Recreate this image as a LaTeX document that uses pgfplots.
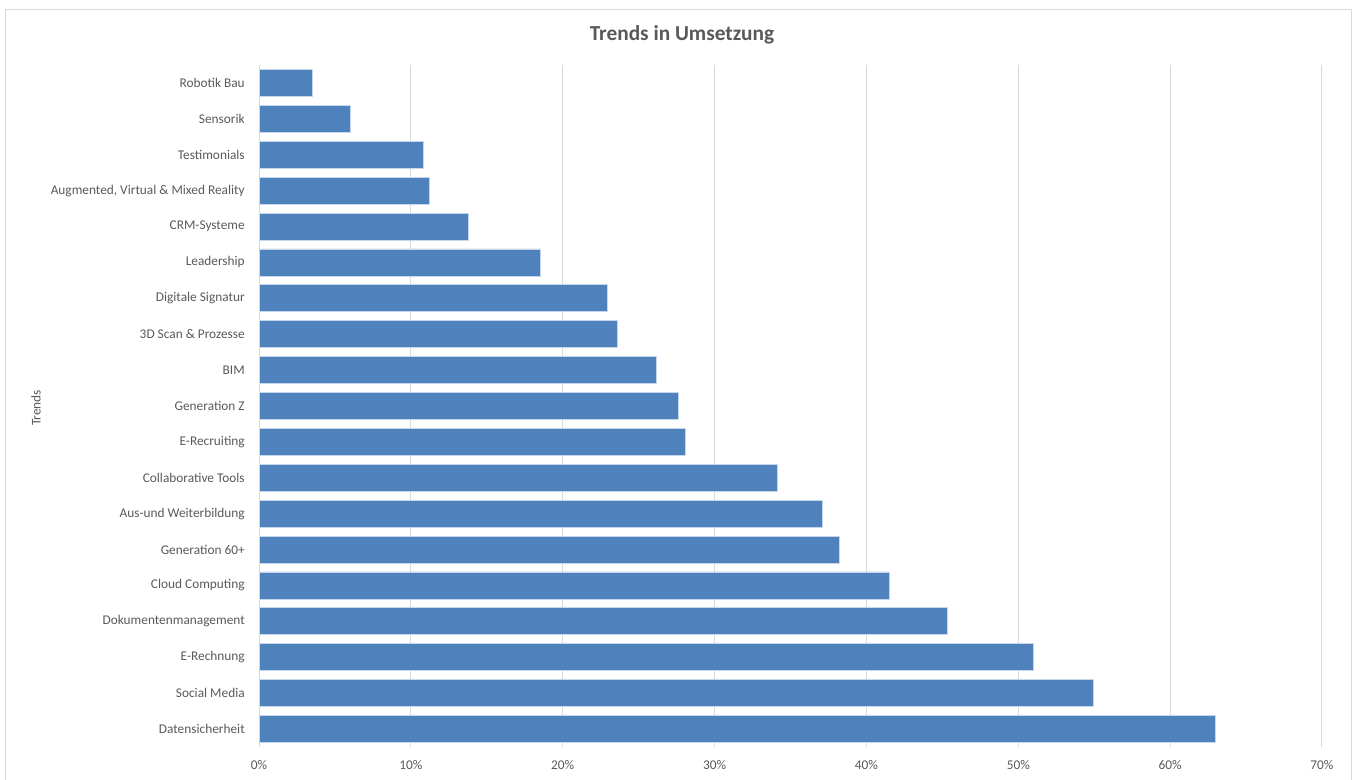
\documentclass[border=0pt]{standalone}
\usepackage{fontspec}
\setmainfont{Carlito}
\usepackage{pgfplots}
\pgfplotsset{compat=1.18}
\usepackage{pgfplotstable}
\definecolor{barblue}{HTML}{4F81BD}
\definecolor{baredge}{HTML}{C6D6EB}
\definecolor{txtgray}{HTML}{595959}
\definecolor{gridgray}{HTML}{D9D9D9}
\pgfplotstableread{
idx val
0 3.5
1 6.05
2 10.85
3 11.25
4 13.8
5 18.55
6 22.95
7 23.6
8 26.2
9 27.6
10 28.1
11 34.15
12 37.1
13 38.2
14 41.5
15 45.3
16 51.0
17 54.95
18 63.0
}\datatable
\begin{document}
\begin{tikzpicture}[x=0.75pt,y=0.75pt]
\useasboundingbox (0,0) rectangle (1357,780);
\draw[gridgray, line width=0.75pt] (5,-5) rectangle (1351,770);
\node[font=\fontsize{16}{18}\selectfont\bfseries, text=txtgray] at (682,745) {Trends in Umsetzung};
\node[font=\fontsize{10}{12}\selectfont, text=txtgray, rotate=90] at (36,372) {Trends};
\begin{axis}[
  at={(194.25pt,24.75pt)}, anchor=south west,
  scale only axis,
  width=797.25pt, height=511.5pt,
  xbar, bar width=20.25pt,
  xmin=0, xmax=70,
  ymin=-0.5, ymax=18.5,
  y dir=reverse,
  axis line style={draw=none},
  major tick length=0pt,
  xtick={0,10,...,70},
  xticklabels={0\%,10\%,20\%,30\%,40\%,50\%,60\%,70\%},
  ytick={0,...,18},
  yticklabels={Robotik Bau,Sensorik,Testimonials,{Augmented, Virtual \& Mixed Reality},CRM-Systeme,Leadership,Digitale Signatur,3D Scan \& Prozesse,BIM,Generation Z,E-Recruiting,Collaborative Tools,Aus-und Weiterbildung,Generation 60+,Cloud Computing,Dokumentenmanagement,E-Rechnung,Social Media,Datensicherheit},
  xmajorgrids,
  grid style={gridgray, line width=0.75pt},
  ticklabel style={font=\fontsize{10}{12}\selectfont, text=txtgray},
  yticklabel style={anchor=east, inner sep=0pt, xshift=-10.5pt},
  xticklabel style={anchor=base, inner sep=0pt, yshift=-16.5pt},
  clip=false,
]
\addplot[fill=barblue, draw=baredge, line width=0.6pt] table[x=val, y=idx] {\datatable};
\end{axis}
\end{tikzpicture}
\end{document}
